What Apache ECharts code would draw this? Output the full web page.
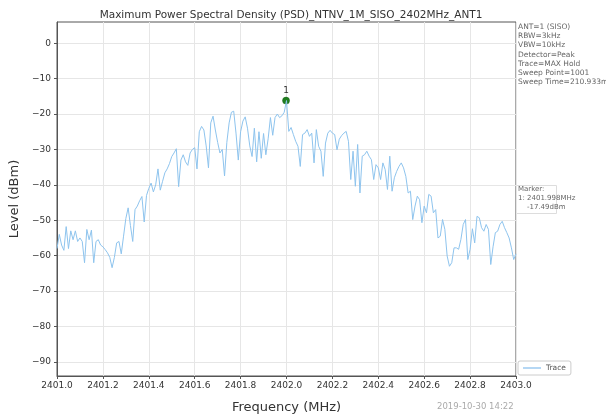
<!DOCTYPE html>
<html>
<head>
<meta charset="utf-8">
<script src="https://cdn.jsdelivr.net/npm/echarts@6/dist/echarts.min.js"></script>
<style>
  html, body { margin: 0; padding: 0; background: #fff; }
  #chart { width: 606px; height: 419px; }
</style>
</head>
<body>
<div id="chart"></div>
<script>
// sweep: start frequency and step (MHz), levels (dBm)
const startFreq = 2401.0
const stepFreq = 0.01
// prettier-ignore
const levels = [
  -58, -54, -57, -58.5, -51.8, -58, -53, -55.5, -53, -56,
  -55, -56, -62, -52.6, -55.5, -52.8, -62, -56, -55.5, -57,
  -57.5, -58.3, -59.2, -60.5, -63.4, -60.5, -56.4, -56, -59.5, -54.5,
  -49.5, -46.5, -51.5, -56, -47, -46, -44.5, -43.3, -50.5, -43,
  -41, -39.5, -42, -40, -35.5, -41.5, -39, -36.6, -35.5, -34,
  -32, -31, -29.8, -40.5, -33, -31.5, -33.5, -34.5, -31, -30,
  -29.5, -35.5, -25, -23.5, -24.5, -29, -35.2, -22.5, -20.6, -24.5,
  -28, -31, -30, -37.5, -28, -22.5, -19.5, -19.2, -25.4, -33,
  -25, -22, -20.8, -24, -29, -32, -24, -33.5, -25, -32.5,
  -25.5, -31.5, -27, -21, -26, -21, -20, -21, -20.5, -19.5,
  -16.2, -24.9, -23.8, -25.8, -27.7, -29.1, -34.8, -25.8, -25.4, -24.4,
  -26.3, -25.4, -33.8, -24.4, -29.1, -30.5, -37.6, -28.2, -25.4, -24.6,
  -25.4, -25.8, -30.1, -27.1, -26.1, -25.4, -24.9, -27.7, -38.5, -30.5,
  -40.4, -28.6, -42.3, -31.9, -31.5, -30.5, -31.9, -32.9, -38.5, -34.3,
  -35.2, -38.5, -33.8, -35.7, -41.3, -31.9, -41.8, -38.0, -36.2, -34.8,
  -33.8, -35.2, -37.6, -42.3, -41.8, -49.8, -46.0, -43.2, -44.2, -50.7,
  -46, -47.9, -42.7, -43.2, -47.9, -47, -55, -54.5, -49.8, -52.6,
  -60.1, -63, -62, -57.8, -57.8, -58.2, -55.4, -51.2, -49.8, -61.1,
  -58.2, -52.4, -56.4, -48.9, -49.3, -52.1, -53.1, -51.2, -52.6, -62.5,
  -57.5, -53.5, -53.1, -51.2, -50.3, -52.1, -53.5, -55, -57.8, -61.1,
  -59.5
]
const markerPoint = [2401.998, -16.2]
const yTicks = [0, -10, -20, -30, -40, -50, -60, -70, -80, -90]
const infoLines = ['ANT=1 (SISO)', 'RBW=3kHz', 'VBW=10kHz', 'Detector=Peak', 'Trace=MAX Hold', 'Sweep Point=1001', 'Sweep Time=210.933ms']
const markerLines = ['Marker:', '1: 2401.998MHz', '    -17.49dBm']
const stamp = '2019-10-30 14:22'

const freqs = levels.map((_, i) => +(startFreq + i * stepFreq).toFixed(3))
const traceData = freqs.map((f, i) => [f, levels[i]])

const font = 'DejaVu Sans'
const chart = echarts.init(document.getElementById('chart'))

const graphics = infoLines.map((t, i) => ({
  type: 'text', left: 518, top: 23 + i * 9.2,
  style: { text: t, fill: '#666', font: '7.5px ' + font }
}))
graphics.push({
  type: 'rect', shape: { x: 516.5, y: 185.5, width: 40, height: 28 },
  style: { fill: '#fff', stroke: '#ddd', lineWidth: 1 }
})
markerLines.forEach((t, i) => graphics.push({
  type: 'text', left: 518, top: 186 + i * 9,
  style: { text: t, fill: '#666', font: '7px ' + font }
}))
graphics.push({
  type: 'text', left: 437, top: 402,
  style: { text: stamp, fill: '#aaa', font: '8.5px ' + font }
})

const option = {
  animation: false,
  backgroundColor: '#fff',
  textStyle: { fontFamily: font },
  title: {
    text: 'Maximum Power Spectral Density (PSD)_NTNV_1M_SISO_2402MHz_ANT1',
    left: 286, top: 5, textAlign: 'center',
    textStyle: { fontSize: 10.5, fontWeight: 'normal', color: '#333', fontFamily: font }
  },
  grid: { left: 57, right: 90, top: 22, bottom: 42, show: true, borderColor: '#555', borderWidth: 1, backgroundColor: 'transparent' },
  legend: {
    data: ['Trace'], left: 518, top: 361, orient: 'vertical',
    itemWidth: 18, itemHeight: 8, padding: [3, 5], itemGap: 0,
    borderColor: '#ccc', borderWidth: 1, borderRadius: 2,
    textStyle: { fontSize: 7.5, color: '#555', fontFamily: font },
    icon: 'path://M0,4L18,4L18,5L0,5Z'
  },
  xAxis: {
    type: 'value', min: 2401, max: 2403, interval: 0.2,
    name: 'Frequency (MHz)', nameLocation: 'middle', nameGap: 25,
    nameTextStyle: { fontSize: 13, color: '#333', fontFamily: font },
    axisLine: { onZero: false, lineStyle: { color: '#555' } },
    axisTick: { show: true, length: 3, lineStyle: { color: '#555' } },
    axisLabel: { fontSize: 9, color: '#333', margin: 5, formatter: v => v.toFixed(1) },
    splitLine: { show: true, lineStyle: { color: '#e6e6e6', width: 1 } }
  },
  yAxis: {
    type: 'value', min: -94, max: 6,
    name: 'Level (dBm)', nameLocation: 'middle', nameGap: 32,
    nameTextStyle: { fontSize: 13, color: '#333', fontFamily: font },
    axisLine: { show: true, onZero: false, lineStyle: { color: '#555' } },
    axisTick: { show: true, length: 3, customValues: yTicks, lineStyle: { color: '#555' } },
    axisLabel: { fontSize: 9, color: '#333', margin: 6, customValues: yTicks,
      formatter: v => v < 0 ? '\u2212' + Math.abs(v) : String(v) },
    splitLine: { show: true, lineStyle: { color: '#e6e6e6', width: 1 } }
  },
  series: [
    {
      name: 'Trace', type: 'line', data: traceData,
      showSymbol: false, symbol: 'none',
      lineStyle: { color: '#8ec4ee', width: 1 },
      itemStyle: { color: '#6aaee8' }
    },
    {
      name: 'Marker', type: 'scatter', data: [markerPoint],
      symbolSize: 7, itemStyle: { color: '#1f7f1f', opacity: 1, borderColor: '#165e16', borderWidth: 0.5 },
      label: { show: true, position: 'top', distance: 2, formatter: '1', fontSize: 9, color: '#333', fontFamily: font }
    }
  ],
  graphic: graphics
}
chart.setOption(option)
</script>
</body>
</html>
